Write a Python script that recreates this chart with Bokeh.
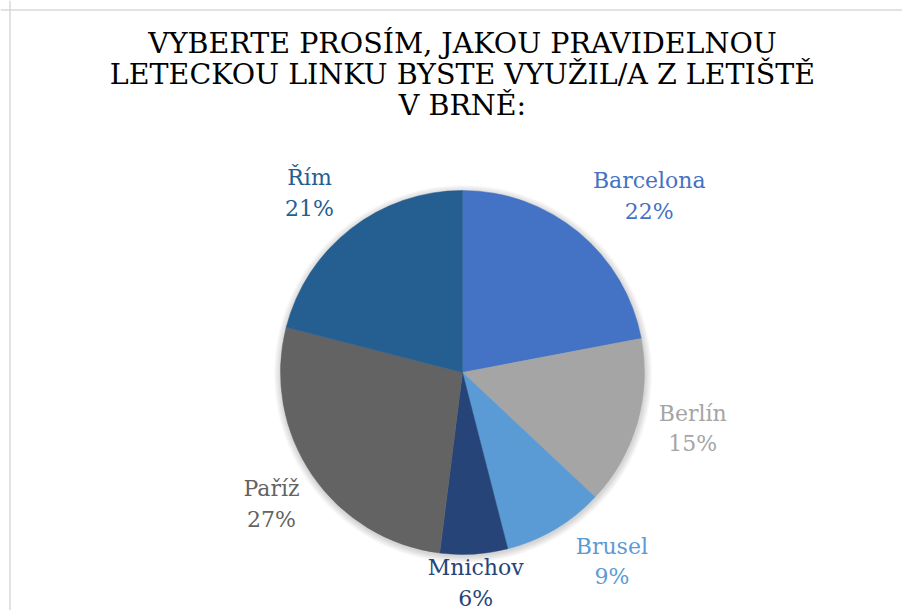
import math
from bokeh.plotting import figure
from bokeh.models import Range1d, Span, ColumnDataSource
from bokeh.core.properties import value
from bokeh.embed import file_html
from bokeh.resources import INLINE

# ---- data ----
names = ["Barcelona", "Berlín", "Brusel", "Mnichov", "Paříž", "Řím"]
shares = [22, 15, 9, 6, 27, 21]
colors = ["#4472C4", "#A5A5A5", "#5B9BD5", "#264478", "#636363", "#255E91"]
title_lines = ["VYBERTE PROSÍM, JAKOU PRAVIDELNOU",
               "LETECKOU LINKU BYSTE VYUŽIL/A Z LETIŠTĚ",
               "V BRNĚ:"]

# ---- layout / style ----
W, H = 902, 610
FONT = "DejaVu Serif"
cx, cy = 462, H - 372
R = 182
label_dist = [257, 237, 241, 211, 232, 236]
label_turn = [7, -2.5, -7.7, 0, -0.4, -2.6]

p = figure(width=W, height=H, output_backend="svg", toolbar_location=None,
           x_range=Range1d(0, W), y_range=Range1d(0, H),
           x_axis_location=None, y_axis_location=None, min_border=0)
p.grid.visible = False
p.outline_line_color = None
p.background_fill_color = "white"
p.border_fill_color = "white"

# chart-area border (only top/left visible in the crop)
p.add_layout(Span(location=9.5, dimension="height", line_color="#D9D9D9", line_width=1.5))
p.add_layout(Span(location=H - 9.5, dimension="width", line_color="#D9D9D9", line_width=1.5))

# soft shadow
for k in range(1, 8):
    p.circle(x=cx + 0.5, y=cy - 1.5, radius=R + k, fill_color="black",
             fill_alpha=0.022, line_color=None)

total = sum(shares)
starts, ends, mids = [], [], []
cum = 0.0
for v in shares:
    a0 = cum / total
    cum += v
    a1 = cum / total
    starts.append(math.pi / 2 - a1 * 2 * math.pi)
    ends.append(math.pi / 2 - a0 * 2 * math.pi)
    mids.append((a0 + a1) / 2 * 360)

src = ColumnDataSource(dict(start=starts, end=ends, color=colors))
p.wedge(x=cx, y=cy, radius=R, start_angle="start", end_angle="end",
        fill_color="color", line_color="color", line_width=0.5, source=src)

# data labels
lx, ly, ltxt = [], [], []
for i, name in enumerate(names):
    ang = math.radians(mids[i] + label_turn[i])
    lx.append(cx + label_dist[i] * math.sin(ang))
    ly.append(cy + label_dist[i] * math.cos(ang))
    ltxt.append(f"{name}\n{round(shares[i] / total * 100)}%")
lsrc = ColumnDataSource(dict(x=lx, y=ly, t=ltxt, c=colors))
p.text(x="x", y="y", text="t", text_color="c", source=lsrc,
       text_font=value(FONT), text_font_size="22px", text_align="center",
       text_baseline="middle", text_line_height=1.22)

# title
for i, line in enumerate(title_lines):
    p.text(x=[462], y=[H - 43 - 31 * i], text=[line],
           text_font=value(FONT), text_font_size="28.5px", text_color="black",
           text_align="center", text_baseline="middle")

open("out.html", "w").write(file_html(p, INLINE))
